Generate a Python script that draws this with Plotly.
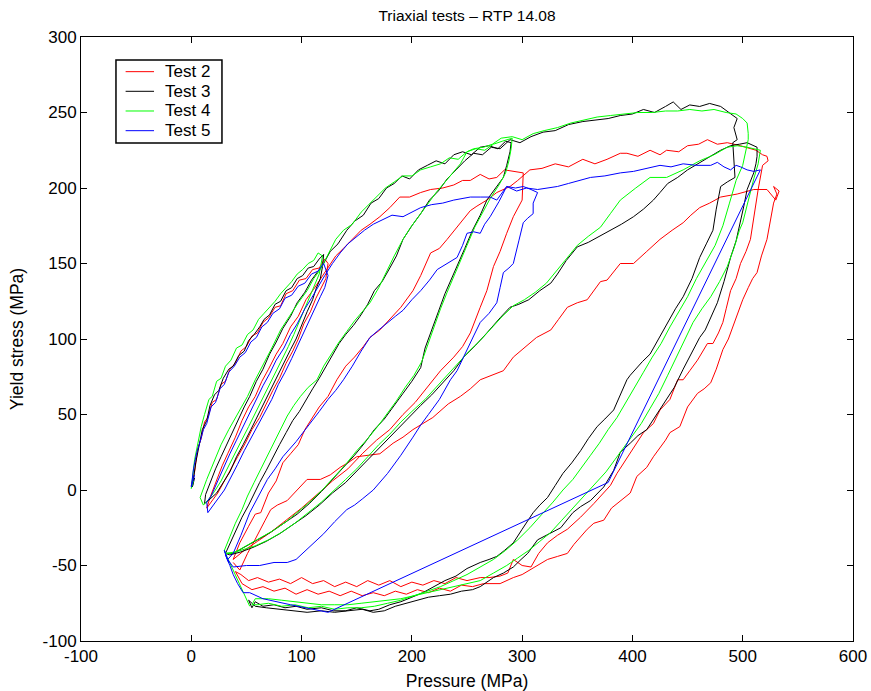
import plotly.graph_objects as go

# Triaxial tests RTP 14.08 - (pressure MPa, yield stress MPa)
test2 = [(2,8),(0,3),(3,12),(6,28),(9,34),(12,45),(15,48),(19,58),(23,60),(27,70),(31,72),(35,80),(40,84),(45,92),(50,95),(55,102),(60,104),(65,111),(70,114),(76,121),(81,122),(86,130),(92,132),(98,139),(104,140),(110,146),(116,147),(121,153),(124,150),
         (122,140),(117,133),(113,127),(108,118),(102,110),(97,100),(92,92),(86,84),(80,74),(74,66),(68,57),(62,48),(55,40),(49,31),(42,22),(36,14),(30,6),(24,-2),(18,-8),(14,-12),
         (17,-5),(22,5),(28,16),(33,24),(40,35),(46,46),(52,55),(58,62),(64,72),(70,80),(77,90),(83,97),(90,108),(97,115),(104,126),(111,133),(118,141),(124,147),(131,155),(138,160),(146,166),(154,172),(162,176),(171,181),(180,187),(189,194),(198,194),(208,197),(217,199),(228,200),(238,202),(246,205),(253,205),(262,209),(270,206),(277,207),(284,212),(292,211),(301,210),
         (300,192),(292,181),(286,170),(280,158),(274,148),(268,132),(262,121),(253,104),(246,95),(238,88),(226,79),(214,68),(203,58),(192,50),(180,40),(168,33),(155,24),(142,14),(128,6),(114,-3),(100,-12),(86,-20),(72,-28),(60,-34),(48,-40),(38,-46),
         (44,-35),(52,-24),(58,-16),(63,-15),(70,-2),(77,6),(83,18),(90,24),(97,30),(103,40),(108,46),(116,55),(124,62),(132,73),(140,82),(148,88),(156,95),(162,101),(171,106),(180,113),(190,121),(201,132),(208,142),(217,157),(225,160),(232,166),(242,175),(253,185),(259,188),(268,192),(277,197),(289,201),(296,205),(307,212),
         (318,213),(330,216),(342,214),(355,219),(366,216),(377,219),(389,223),(395,223),(405,221),(416,225),(425,222),(431,225),(442,224),(450,228),(460,229),(468,232),(477,229),(486,230),(498,228),(506,226),(512,225),(518,222),(522,221),(523,218),
         (518,215),(514,199),(512,190),(510,181),(507,166),(503,158),(498,150),(494,140),(489,132),(485,120),(482,111),(478,104),(473,97),(468,97),(461,88),(459,86),(452,79),(446,73),(441,73),(434,60),(425,53),(419,44),(410,38),(401,28),(392,18),(386,11),(380,3),(374,-2),(365,-9),(353,-18),(341,-26),(332,-30),(323,-35),(315,-42),(308,-51),(300,-50),(292,-46),(287,-55),(280,-57),(270,-58),(262,-58),
         (250,-60),(240,-58),(230,-62),(220,-60),(210,-63),(200,-61),(190,-64),(180,-60),(170,-63),(160,-60),(150,-64),(140,-61),(130,-64),(120,-60),(110,-62),(100,-58),(90,-62),(80,-59),(70,-61),(60,-58),(52,-60),(45,-56),(40,-54),
         (46,-62),(55,-66),(65,-64),(75,-67),(85,-65),(95,-69),(105,-66),(115,-69),(125,-67),(135,-70),(145,-67),(155,-70),(165,-68),(175,-70),(185,-67),(195,-69),(205,-66),(215,-68),(225,-65),(235,-67),(245,-63),(255,-64),(265,-62),(280,-62),(292,-58),(300,-56),(307,-53),(315,-50),(323,-46),(332,-44),(341,-42),(347,-36),(353,-31),(359,-26),(365,-22),(374,-20),(381,-12),(389,-7),(394,-4),(398,-2),(404,9),(413,15),(419,22),(425,28),(430,33),(434,38),(443,42),(450,55),(455,60),(459,64),(465,67),(471,71),(476,80),(482,93),(487,100),(491,108),(496,117),(500,126),(505,134),(509,140),(513,144),(517,155),(522,166),(525,178),(528,190),(531,196),(528,201),(533,198),(530,192),(522,199),
         (510,199),(495,196),(480,194),(470,190),(461,187),(453,182),(446,177),(436,172),(425,166),(413,158),(401,150),(389,150),(377,139),(371,138),(365,132),(359,126),(350,124),(341,121),(333,113),(326,106),(313,101),(302,94),(292,88),(283,79),(272,76),(262,73),(253,67),(244,62),(233,57),(219,48),(210,44),(201,40),(192,35),(183,31),(171,24),(160,23),(150,22),(142,18),(135,15),(126,10),(117,7),(105,7),(96,0),(87,-7),(78,-10),(72,-13),(67,-20),(63,-26),(57,-34),(51,-42),(44,-53),(38,-48)]

test3 = [(3,8),(1,2),(4,18),(7,30),(10,40),(14,46),(17,56),(21,63),(25,66),(29,74),(34,80),(38,82),(43,89),(48,92),(52,99),(57,103),(62,108),(66,113),(71,116),(76,123),(81,125),(86,132),(91,134),(96,140),(101,142),(106,147),(111,148),(116,153),(120,156),(119,148),
         (117,140),(113,133),(110,126),(105,118),(100,109),(95,100),(90,93),(84,84),(78,75),(72,66),(66,58),(60,49),(54,40),(47,30),(41,22),(35,12),(29,5),(23,-2),(17,-6),(12,-9),
         (13,-3),(17,5),(22,14),(27,22),(32,30),(37,38),(42,45),(48,55),(53,62),(59,72),(65,80),(71,90),(77,98),(83,107),(90,115),(96,124),(103,131),(109,139),(115,145),(120,150),(126,158),(133,163),(141,172),(148,178),(156,182),(163,190),(170,193),(177,200),(184,203),(191,208),(198,206),(206,212),(214,215),(222,218),(230,216),(238,222),(246,224),(254,222),(262,227),(270,228),(278,226),(285,231),(290,230),
         (289,224),(286,215),(283,207),(276,200),(268,192),(262,182),(255,172),(248,160),(242,150),(236,139),(230,130),(224,118),(218,106),(212,94),(208,81),(200,72),(192,64),(183,55),(175,47),(166,40),(157,31),(148,23),(138,15),(128,7),(118,-1),(107,-9),(96,-16),(84,-22),(72,-28),(60,-33),(48,-38),(38,-42),(31,-42),
         (36,-34),(41,-26),(46,-18),(52,-10),(57,-2),(62,5),(68,13),(74,22),(80,30),(86,38),(92,46),(98,52),(104,60),(110,67),(116,74),(122,82),(128,89),(134,97),(140,103),(147,109),(153,115),(160,123),(166,132),(173,138),(180,147),(186,155),(192,166),(200,175),(208,183),(216,192),(224,198),(232,206),(240,212),(248,218),(256,223),
         (264,222),(272,227),(280,226),(289,232),(298,230),(308,234),(319,237),(330,238),(342,242),(355,244),(366,245),(378,246),(389,248),(400,249),(410,252),(420,250),(430,254),(437,257),(444,252),(452,255),(461,254),(470,256),(480,254),(488,250),(495,246),(492,240),(495,232),(491,230),
         (493,207),(486,204),(480,201),(476,186),(473,172),(467,163),(461,154),(454,140),(446,128),(439,120),(432,111),(424,100),(416,90),(409,85),(404,81),(398,76),(395,73),(389,63),(383,53),(375,47),(368,42),(360,34),(353,26),(345,18),(337,11),(330,3),(323,-5),(316,-10),(310,-15),(300,-26),(292,-35),(284,-40),(277,-44),(270,-46),(262,-48),(250,-52),(240,-57),(230,-60),(220,-64),(210,-68),(200,-71),(190,-74),(180,-76),(170,-79),(162,-80),(150,-78),(140,-80),(129,-80),(118,-78),(105,-79),(95,-77),(85,-78),(75,-76),(65,-77),(58,-74),(55,-78),(52,-73),
         (58,-77),(68,-78),(80,-79),(92,-80),(105,-81),(118,-80),(130,-81),(142,-80),(155,-79),(165,-81),(175,-80),(185,-77),(195,-75),(205,-73),(215,-71),(225,-70),(235,-69),(245,-67),(255,-66),(262,-64),(274,-58),(283,-55),(292,-51),(299,-46),(305,-42),(314,-33),(325,-29),(335,-25),(346,-15),(353,-11),(362,-7),(374,2),(383,13),(389,25),(398,31),(405,36),(413,40),(422,50),(431,60),(438,68),(446,80),(452,88),(461,101),(466,106),(473,118),(477,124),(483,138),(489,154),(494,165),(498,177),(501,188),(504,199),(507,205),(510,210),(512,216),(513,221),(513,227),
         (504,230),(497,229),(489,228),(480,225),(471,221),(460,216),(450,212),(441,207),(432,203),(425,197),(419,192),(410,186),(401,181),(390,176),(380,172),(371,168),(360,164),(350,161),(340,152),(332,143),(326,137),(316,132),(306,126),(297,123),(289,121),(280,114),(273,108),(268,104),(258,96),(247,88),(238,79),(228,71),(218,63),(208,56),(200,50),(190,42),(180,35),(170,27),(160,20),(150,12),(140,5),(128,-2),(116,-10),(104,-17),(92,-23),(80,-29),(68,-34),(56,-38),(45,-41),(35,-43),(31,-42)]

test4 = [(2,6),(0,1),(3,20),(6,32),(9,42),(12,50),(16,60),(19,62),(23,72),(27,74),(31,82),(36,86),(41,94),(46,96),(51,103),(56,106),(61,113),(66,117),(71,121),(76,125),(81,130),(86,134),(91,138),(96,143),(101,146),(106,150),(111,152),(115,157),(119,155),
         (116,143),(112,136),(108,128),(103,120),(98,111),(93,103),(88,95),(82,86),(76,77),(70,68),(64,59),(58,50),(52,42),(45,32),(39,23),(33,14),(27,6),(21,-1),(16,-6),(11,-10),
         (8,-5),(14,7),(20,18),(27,30),(34,40),(42,50),(51,62),(58,73),(66,84),(73,94),(81,106),(89,115),(97,124),(105,132),(111,140),(117,146),(124,156),(131,166),(138,172),(146,176),(154,184),(162,190),(170,196),(176,200),(184,204),(192,208),(200,208),(208,212),(217,214),(226,216),(234,220),(242,219),(250,224),(258,226),(266,225),(274,229),(282,231),(291,233),
         (290,226),(288,218),(285,210),(279,202),(271,193),(264,184),(257,174),(250,162),(244,152),(238,141),(232,131),(226,120),(220,108),(214,96),(209,85),(202,76),(194,68),(186,59),(178,51),(170,43),(160,34),(150,26),(140,17),(130,9),(120,1),(109,-7),(98,-14),(86,-21),(74,-27),(62,-32),(50,-37),(40,-41),(31,-42),
         (30,-40),(35,-31),(40,-22),(46,-13),(51,-4),(57,5),(63,14),(69,23),(75,32),(81,41),(87,49),(93,56),(99,62),(106,68),(114,73),(120,82),(127,90),(134,98),(141,105),(148,112),(155,118),(162,124),(170,134),(177,145),(184,155),(192,166),(199,174),(207,182),(215,190),(222,197),(229,203),(237,210),(244,216),(250,224),(256,226),
         (265,227),(273,229),(281,233),(291,234),(300,232),(310,236),(320,238),(332,240),(344,243),(355,245),(368,247),(380,248),(392,249),(405,250),(418,250),(430,251),(441,251),(452,252),(463,251),(474,252),(485,250),(494,249),(500,246),(504,243),(505,236),(505,232),
         (500,215),(494,205),(488,190),(482,175),(475,162),(466,150),(458,140),(450,128),(442,118),(434,108),(426,97),(418,88),(410,78),(402,68),(394,58),(386,48),(378,40),(370,31),(362,23),(354,15),(346,7),(337,0),(328,-8),(318,-16),(307,-25),(296,-33),(285,-40),(274,-46),(262,-51),(250,-56),(238,-60),(226,-64),(214,-67),(202,-70),(190,-73),(178,-75),(166,-77),(154,-78),(142,-78),(130,-79),(118,-77),(106,-78),(94,-76),(82,-77),(70,-75),(60,-76),(55,-76),
         (58,-72),(70,-72),(82,-73),(94,-74),(106,-75),(118,-76),(130,-76),(142,-76),(154,-75),(166,-74),(178,-73),(190,-72),(202,-70),(214,-68),(226,-66),(238,-64),(250,-62),(262,-60),(274,-55),(286,-50),(296,-45),(306,-40),(316,-34),(326,-28),(336,-20),(346,-12),(356,-4),(366,4),(376,12),(384,20),(392,28),(400,36),(408,44),(416,54),(424,64),(432,76),(440,88),(448,100),(455,111),(463,120),(471,128),(479,138),(486,148),(492,160),(497,172),(500,177),(505,192),(510,206),(514,216),(516,225),
         (504,227),(495,228),(486,227),(474,222),(461,218),(446,212),(431,207),(416,207),(403,200),(389,192),(380,183),(371,174),(360,168),(350,162),(340,153),(330,144),(322,137),(312,131),(302,126),(292,122),(282,115),(272,107),(262,99),(252,92),(242,84),(232,76),(222,68),(212,60),(200,52),(190,45),(180,37),(170,30),(160,22),(150,14),(140,7),(130,0),(118,-8),(106,-15),(94,-22),(82,-28),(70,-33),(58,-37),(46,-40),(36,-42),(31,-42),(42,-60),(53,-77)]

test5 = [(3,10),(0,2),(2,14),(5,25),(8,32),(11,40),(14,44),(18,55),(22,58),(26,67),(30,70),(34,78),(39,82),(44,88),(49,91),(54,98),(59,101),(64,108),(69,111),(74,117),(80,120),(85,127),(91,129),(97,135),(103,137),(109,143),(115,145),(120,150),(124,142),
         (121,134),(117,128),(112,120),(107,112),(102,104),(97,96),(91,87),(85,78),(79,70),(73,60),(67,52),(61,44),(55,35),(48,26),(42,17),(36,8),(30,0),(24,-6),(19,-11),(15,-15),(14,-8),
         (18,-4),(24,6),(30,16),(35,24),(41,33),(47,42),(53,52),(59,60),(65,69),(71,77),(77,86),(84,94),(90,103),(96,110),(103,120),(109,127),(115,135),(121,142),(128,150),(135,157),(142,163),(150,168),(157,172),(165,176),(173,179),(182,182),(192,181),(200,184),(208,187),(218,189),(228,190),(238,192),(246,193),(253,194),(262,194),(271,194),(277,192),(286,201),(294,200),(301,201),(308,199),(314,197),
         (310,190),(310,183),(305,180),(301,177),(297,165),(292,150),(288,147),(283,144),(280,134),(277,124),(270,117),(262,111),(256,102),(250,93),(245,86),(241,79),(235,73),(225,60),(215,50),(208,43),(201,35),(190,23),(178,11),(170,4),(165,0),(155,-6),(148,-10),(141,-13),(130,-21),(120,-29),(114,-33),(104,-40),(95,-46),(87,-48),(75,-48),(62,-50),(50,-50),(38,-51),
         (33,-46),(38,-42),(45,-30),(53,-15),(60,-5),(69,7),(76,14),(83,22),(95,32),(108,44),(116,52),(124,60),(131,66),(138,73),(146,82),(154,92),(162,101),(170,106),(178,111),(185,115),(192,119),(200,126),(208,132),(216,139),(223,146),(232,150),(241,154),(246,162),(250,170),(256,171),(262,170),(266,176),(271,181),(279,191),(286,201),(295,198),(304,200),(314,199),
         (323,200),(332,201),(342,203),(352,205),(362,207),(375,208),(389,210),(401,211),(412,213),(425,215),(435,214),(446,216),(458,215),(471,215),(477,217),(483,214),(489,212),(494,215),(498,214),(504,212),(510,211),(516,212),
         (378,5),(124,-81),(90,-76),(65,-72),(53,-68),(47,-68),(42,-62),(38,-56),(35,-50),(32,-45),(30,-40),(34,-48),(31,-43)]

series_names = ["Test 2", "Test 3", "Test 4", "Test 5"]
series_data = [test2, test3, test4, test5]
series_colors = ["#ff0000", "#000000", "#00ff00", "#0000ff"]

x_ticks = [-100, 0, 100, 200, 300, 400, 500, 600]
y_ticks = [-100, -50, 0, 50, 100, 150, 200, 250, 300]

FONT = "Liberation Sans, Arial, Helvetica, sans-serif"

fig = go.Figure()
for name, data, color in zip(series_names, series_data, series_colors):
    p, q = zip(*data)
    fig.add_trace(go.Scatter(x=list(p), y=list(q), mode="lines", name=name,
                             line=dict(color=color, width=1), showlegend=False))

# legend drawn as a boxed key in the upper left (MATLAB style, tight rows)
shapes = [dict(type="rect", xref="paper", yref="paper", x0=0.0453, x1=0.1826, y0=0.8245, y1=0.9619,
               line=dict(color="black", width=1.5), fillcolor="white", layer="above")]
annotations = []
row_y = [0.9426, 0.9101, 0.8775, 0.8449]
for name, color, yy in zip(series_names, series_colors, row_y):
    shapes.append(dict(type="line", xref="paper", yref="paper", x0=0.0578, x1=0.0946, y0=yy, y1=yy,
                       line=dict(color=color, width=1), layer="above"))
    annotations.append(dict(text=name, xref="paper", yref="paper", x=0.1065, y=yy, xanchor="left",
                            yanchor="middle", showarrow=False,
                            font=dict(family=FONT, size=17, color="black")))

axis_common = dict(showgrid=False, zeroline=False, showline=True, linecolor="black",
                   linewidth=1, mirror="ticks", ticks="inside", ticklen=6, automargin=False,
                   tickcolor="black", tickfont=dict(family=FONT, size=17, color="black"))

fig.update_layout(
    width=871, height=691,
    margin=dict(l=81, r=18, t=37, b=50),
    plot_bgcolor="white", paper_bgcolor="white",
    font=dict(family=FONT, size=17, color="black"),
    title=dict(text="Triaxial tests – RTP 14.08", x=0.5, xref="paper", xanchor="center",
               y=1 - 16 / 691, yref="container", yanchor="middle",
               font=dict(family=FONT, size=15.5, color="black")),
    xaxis=dict(range=[-100, 600], tickvals=x_ticks, ticktext=[str(v) if v >= 0 else "-" + str(-v) for v in x_ticks],
               title=dict(text="Pressure (MPa)", standoff=10, font=dict(family=FONT, size=17.5)),
               **axis_common),
    yaxis=dict(range=[-100, 300], tickvals=y_ticks, ticktext=[str(v) if v >= 0 else "-" + str(-v) for v in y_ticks],
               title=dict(text="Yield stress (MPa)", standoff=14, font=dict(family=FONT, size=17.5)),
               **axis_common),
    shapes=shapes,
    annotations=annotations,
    showlegend=False,
    hovermode=False,
)

# drop the default 8px page margin so the 871x691 figure fills the window exactly
fig.write_html("out.html", config={"displayModeBar": False},
               post_script="document.body.style.margin='0';")
